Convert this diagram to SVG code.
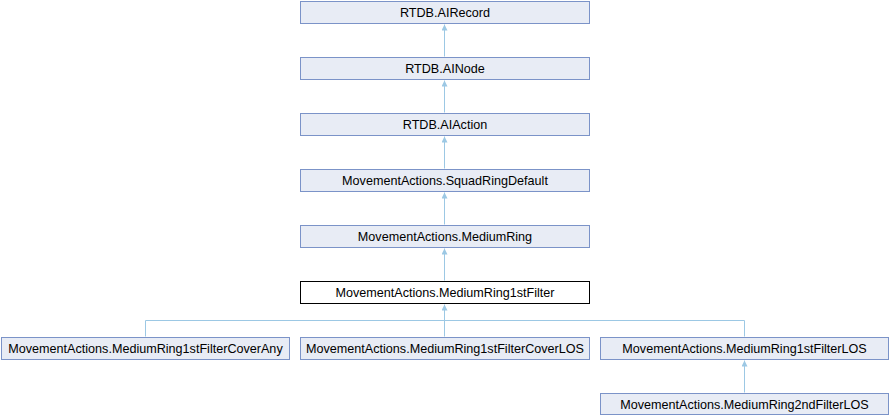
<svg xmlns="http://www.w3.org/2000/svg" width="890" height="416" viewBox="0 0 890 416">
<defs>
<style>
.n rect{fill:#e8ecf5;stroke:#7b93c8;stroke-width:1}
.n.h rect{fill:#ffffff;stroke:#000000}
.n text{font-family:"Liberation Sans",Arial,sans-serif;font-size:12.6px;fill:#000;text-anchor:middle}
.e{fill:none;stroke:#9cc8e4;stroke-width:1}
</style>
<marker id="a" viewBox="0 0 10 10" refX="0" refY="5" markerWidth="6" markerHeight="6" orient="auto" markerUnits="userSpaceOnUse">
<path d="M0,5 L10,0 L10,10 Z" fill="#9cc8e4"/>
</marker>
</defs>
<rect width="890" height="416" fill="#ffffff"/>
<g id="connectors">
<path class="e" marker-start="url(#a)" d="M444.5,24.5 V56.5"/>
<path class="e" marker-start="url(#a)" d="M444.5,80.5 V112.5"/>
<path class="e" marker-start="url(#a)" d="M444.5,136.5 V168.5"/>
<path class="e" marker-start="url(#a)" d="M444.5,192.5 V224.5"/>
<path class="e" marker-start="url(#a)" d="M444.5,248.5 V280.5"/>
<path class="e" marker-start="url(#a)" d="M444.5,304.5 V336.5"/>
<path class="e" d="M145.5,336.5 V320.5 H744.5 V336.5"/>
<path class="e" marker-start="url(#a)" d="M744.5,360.5 V392.5"/>
</g>
<g id="n_airecord" class="n"><rect x="300.5" y="1.5" width="289" height="22"/><text x="445" y="17">RTDB.AIRecord</text></g>
<g id="n_ainode" class="n"><rect x="300.5" y="57.5" width="289" height="22"/><text x="445" y="73">RTDB.AINode</text></g>
<g id="n_aiaction" class="n"><rect x="300.5" y="113.5" width="289" height="22"/><text x="445" y="129">RTDB.AIAction</text></g>
<g id="n_squadringdefault" class="n"><rect x="300.5" y="169.5" width="289" height="22"/><text x="445" y="185">MovementActions.SquadRingDefault</text></g>
<g id="n_mediumring" class="n"><rect x="300.5" y="225.5" width="289" height="22"/><text x="445" y="241">MovementActions.MediumRing</text></g>
<g id="n_mediumring1stfilter" class="n h"><rect x="300.5" y="281.5" width="289" height="22"/><text x="445" y="297">MovementActions.MediumRing1stFilter</text></g>
<g id="n_coverany" class="n"><rect x="1.5" y="337.5" width="288" height="22"/><text x="145.5" y="353">MovementActions.MediumRing1stFilterCoverAny</text></g>
<g id="n_coverlos" class="n"><rect x="300.5" y="337.5" width="289" height="22"/><text x="445" y="353">MovementActions.MediumRing1stFilterCoverLOS</text></g>
<g id="n_1stfilterlos" class="n"><rect x="600.5" y="337.5" width="288" height="22"/><text x="744.5" y="353">MovementActions.MediumRing1stFilterLOS</text></g>
<g id="n_2ndfilterlos" class="n"><rect x="600.5" y="393.5" width="288" height="21"/><text x="744.5" y="409">MovementActions.MediumRing2ndFilterLOS</text></g>
</svg>
